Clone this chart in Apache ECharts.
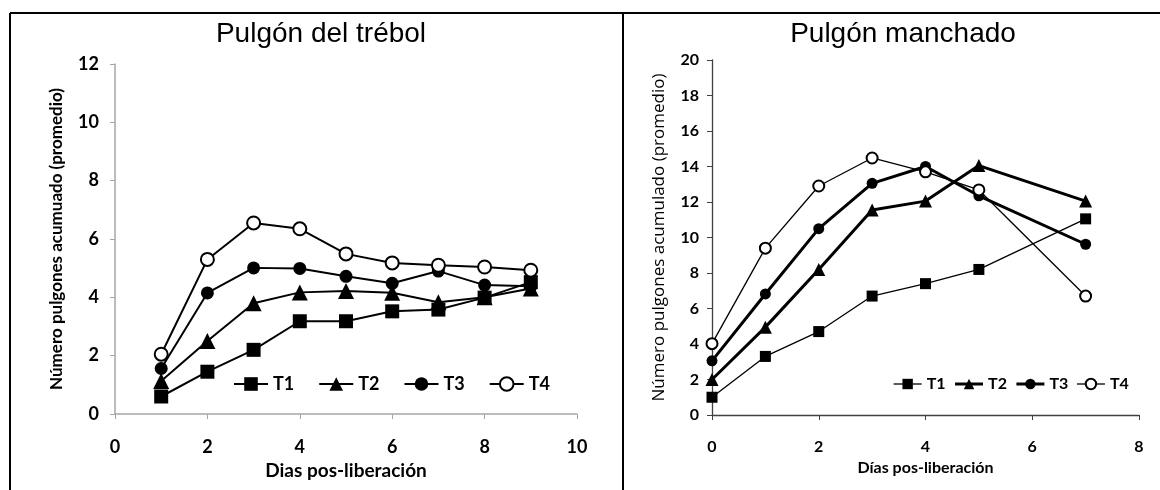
<!DOCTYPE html>
<html>
<head>
<meta charset="utf-8">
<script src="https://cdn.jsdelivr.net/npm/echarts@6/dist/echarts.min.js"></script>
<style>
html,body{margin:0;padding:0;background:#fff;}
#chart{width:1160px;height:490px;}
</style>
</head>
<body>
<div id="chart"></div>
<script>
// Pulgón del trébol (días 1..9)
var leftDays = [1, 2, 3, 4, 5, 6, 7, 8, 9];
var leftT1 = [0.6, 1.45, 2.2, 3.18, 3.18, 3.52, 3.58, 3.99, 4.52];
var leftT2 = [1.13, 2.5, 3.8, 4.17, 4.22, 4.16, 3.83, 4.0, 4.3];
var leftT3 = [1.56, 4.15, 5.01, 4.99, 4.72, 4.48, 4.9, 4.42, 4.38];
var leftT4 = [2.05, 5.3, 6.55, 6.35, 5.49, 5.18, 5.1, 5.04, 4.93];

// Pulgón manchado (días 0..7, sin día 6)
var rightDays = [0, 1, 2, 3, 4, 5, 7];
var rightT1 = [1.0, 3.3, 4.7, 6.7, 7.4, 8.2, 11.05];
var rightT2 = [2.0, 4.95, 8.2, 11.55, 12.05, 14.05, 12.05];
var rightT3 = [3.05, 6.82, 10.5, 13.05, 14.0, 12.35, 9.62];
var rightT4 = [4.02, 9.4, 12.9, 14.48, 13.7, 12.68, 6.7];

var names = ["T1", "T2", "T3", "T4"];
var symbols = ["rect", "triangle", "circle", "emptyCircle"];

function pairs(xs, ys) {
	var out = [];
	for (var i = 0; i < xs.length; i++) {
		out.push([xs[i], ys[i]]);
	}
	return out;
}

var leftSets = [leftT1, leftT2, leftT3, leftT4];
var rightSets = [rightT1, rightT2, rightT3, rightT4];
var leftSizes = [14, 16, 13, 13];
var rightSizes = [11, 13, 11, 11];
var rightWidths = [1.3, 3, 3, 1.3];

var series = [];
for (var i = 0; i < 4; i++) {
	series.push({
		name: names[i],
		type: "line",
		xAxisIndex: 0,
		yAxisIndex: 0,
		data: pairs(leftDays, leftSets[i]),
		symbol: symbols[i],
		symbolSize: leftSizes[i],
		color: "#000",
		lineStyle: { color: "#000", width: 2 },
		itemStyle: { borderWidth: 1.5 }
	});
}
for (var j = 0; j < 4; j++) {
	series.push({
		name: names[j],
		type: "line",
		xAxisIndex: 1,
		yAxisIndex: 1,
		data: pairs(rightDays, rightSets[j]),
		symbol: symbols[j],
		symbolSize: rightSizes[j],
		color: "#000",
		lineStyle: { color: "#000", width: rightWidths[j] },
		itemStyle: { borderWidth: 1.3 }
	});
}

var e = echarts.init(document.getElementById("chart")),
a = {
	animation: false,
	backgroundColor: "#fff",
	title: [{
		text: "Pulgón del trébol",
		left: 316,
		top: 15,
		textAlign: "center",
		textStyle: { fontFamily: "Liberation Sans", fontWeight: "normal", fontSize: 28, color: "#000" }
	}, {
		text: "Pulgón manchado",
		left: 898,
		top: 15,
		textAlign: "center",
		textStyle: { fontFamily: "Liberation Sans", fontWeight: "normal", fontSize: 28, color: "#000" }
	}],
	legend: [{
		left: 233,
		top: 375,
		padding: 0,
		itemWidth: 34,
		itemHeight: 17,
		itemGap: 24,
		textStyle: { fontFamily: "Lato", fontWeight: "bold", fontSize: 18, color: "#000" },
		data: names
	}, {
		left: 893,
		top: 376,
		padding: 0,
		itemWidth: 28,
		itemHeight: 13,
		itemGap: 8,
		textStyle: { fontFamily: "Lato", fontWeight: "bold", fontSize: 16, color: "#000" },
		data: [
			{ name: "T1", lineStyle: { width: 1.3 } },
			{ name: "T2", lineStyle: { width: 3 } },
			{ name: "T3", lineStyle: { width: 3 } },
			{ name: "T4", lineStyle: { width: 1.3 } }
		]
	}],
	grid: [
		{ left: 115, top: 64, width: 462, height: 350 },
		{ left: 712, top: 60, width: 427, height: 355 }
	],
	xAxis: [{
		gridIndex: 0,
		type: "value",
		min: 0,
		max: 10,
		interval: 2,
		name: "Dias pos-liberación",
		nameLocation: "middle",
		nameGap: 38,
		nameTextStyle: { fontFamily: "Lato", fontWeight: "bold", fontSize: 19, color: "#000" },
		axisLine: { lineStyle: { color: "#a6a6a6", width: 1.5 } },
		axisTick: { show: true, length: 5, lineStyle: { color: "#a6a6a6" } },
		axisLabel: { margin: 24, fontSize: 18, fontFamily: "Lato", fontWeight: "bold", color: "#000" },
		splitLine: { show: false }
	}, {
		gridIndex: 1,
		type: "value",
		min: 0,
		max: 8,
		interval: 2,
		name: "Días pos-liberación",
		nameLocation: "middle",
		nameGap: 35,
		nameTextStyle: { fontFamily: "Lato", fontWeight: "bold", fontSize: 16, color: "#000" },
		axisLine: { lineStyle: { color: "#404040", width: 1.3 } },
		axisTick: { show: true, length: 5, lineStyle: { color: "#404040" } },
		axisLabel: { margin: 24, fontSize: 16, fontFamily: "Lato", fontWeight: "bold", color: "#000" },
		splitLine: { show: false }
	}],
	yAxis: [{
		gridIndex: 0,
		type: "value",
		min: 0,
		max: 12,
		interval: 2,
		name: "Número pulgones acumuado (promedio)",
		nameLocation: "middle",
		nameGap: 50,
		nameTextStyle: { fontFamily: "Lato", fontWeight: "bold", fontSize: 17, color: "#000" },
		axisLine: { show: true, lineStyle: { color: "#a6a6a6", width: 1.5 } },
		axisTick: { show: true, length: 5, lineStyle: { color: "#a6a6a6" } },
		axisLabel: { margin: 16, fontSize: 18, fontFamily: "Lato", fontWeight: "bold", color: "#000" },
		splitLine: { show: false }
	}, {
		gridIndex: 1,
		type: "value",
		min: 0,
		max: 20,
		interval: 2,
		name: "Número pulgones acumulado (promedio)",
		nameLocation: "middle",
		nameGap: 44,
		nameTextStyle: { fontFamily: "Open Sans", fontWeight: "normal", fontSize: 17, color: "#000" },
		axisLine: { show: true, lineStyle: { color: "#404040", width: 1.3 } },
		axisTick: { show: true, length: 5, lineStyle: { color: "#404040" } },
		axisLabel: { margin: 13, fontSize: 16, fontFamily: "Lato", fontWeight: "bold", color: "#000" },
		splitLine: { show: false }
	}],
	graphic: [
		{ type: "line", shape: { x1: 10, y1: 13, x2: 1160, y2: 13 }, style: { stroke: "#000", lineWidth: 2 } },
		{ type: "line", shape: { x1: 10, y1: 13, x2: 10, y2: 490 }, style: { stroke: "#000", lineWidth: 2 } },
		{ type: "line", shape: { x1: 623, y1: 13, x2: 623, y2: 490 }, style: { stroke: "#000", lineWidth: 2 } }
	],
	series: series
};
e.setOption(a);
window.addEventListener("resize", function() { e.resize(); });
</script>
</body>
</html>
